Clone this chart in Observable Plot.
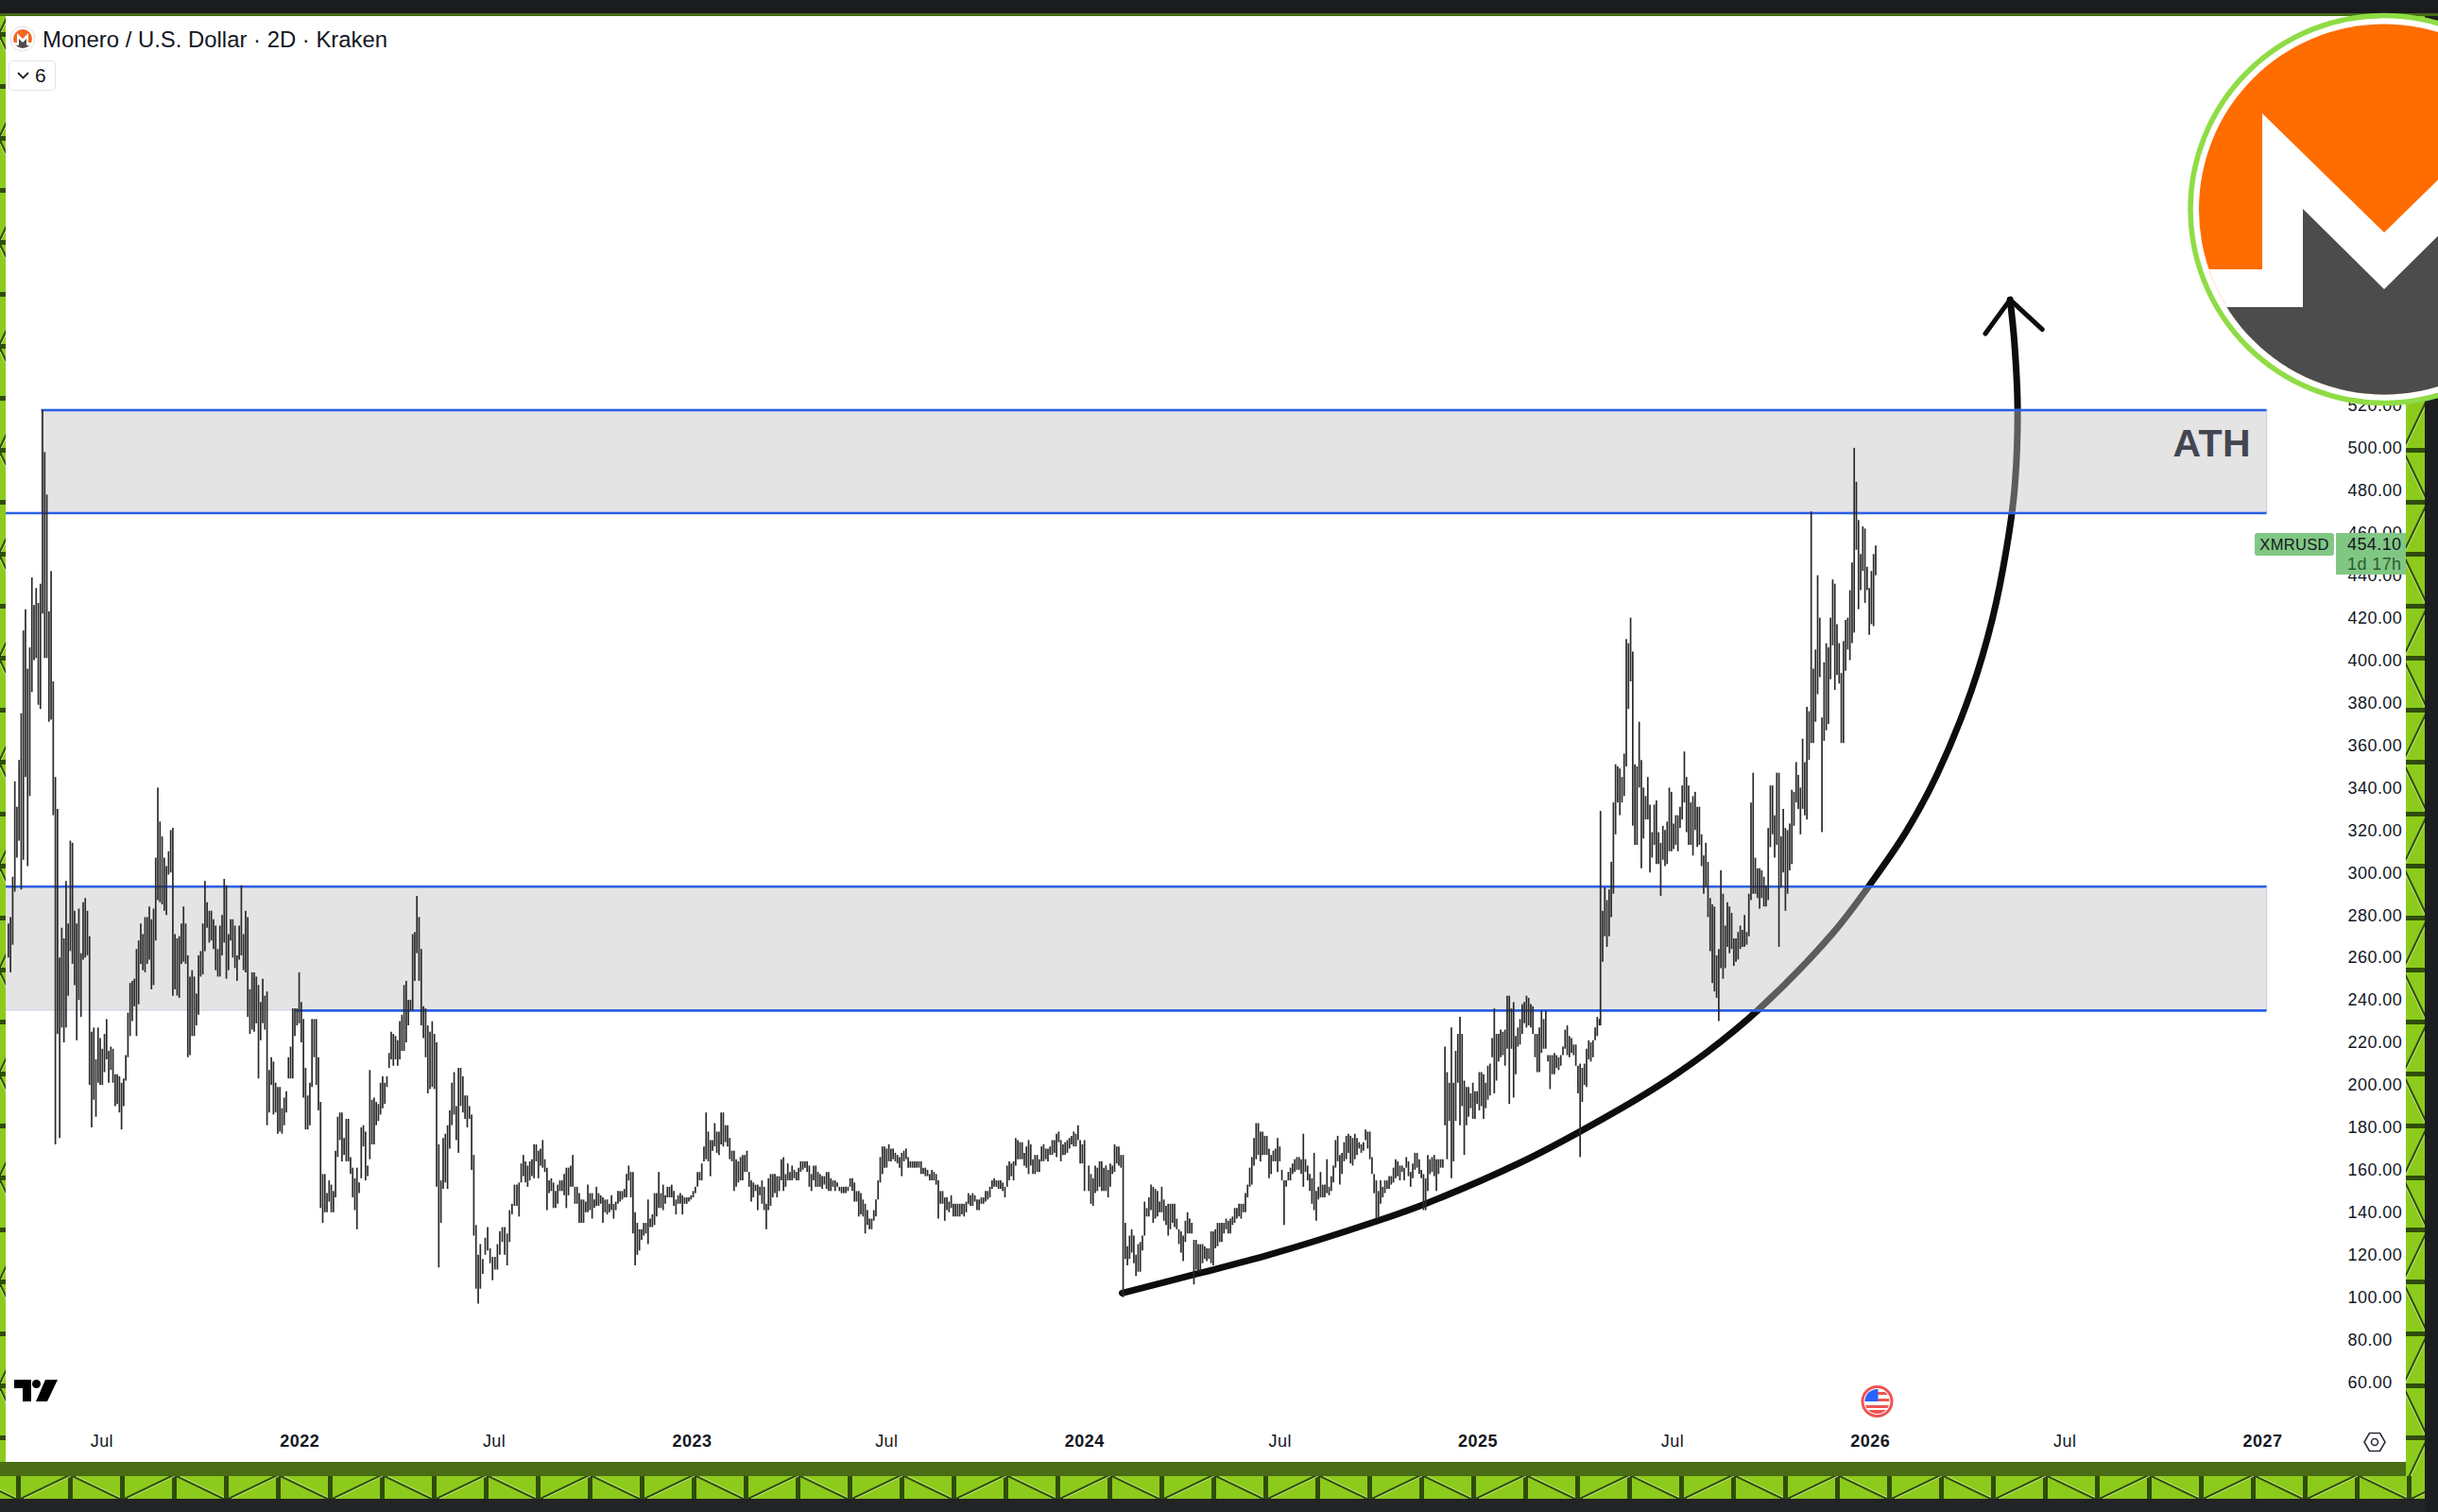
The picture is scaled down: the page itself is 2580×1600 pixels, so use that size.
<!DOCTYPE html>
<html><head><meta charset="utf-8">
<script src="https://cdn.jsdelivr.net/npm/d3@7"></script>
<script src="https://cdn.jsdelivr.net/npm/@observablehq/plot@0.6"></script>
<style>
html,body{margin:0;padding:0;background:#1c1d1e;}
#page{position:relative;width:2580px;height:1600px;overflow:hidden;background:#1c1d1e;font-family:"Liberation Sans",Arial,sans-serif;}
#panel{position:absolute;left:6px;top:17px;width:2540px;height:1530px;background:#fff;}
#chart{position:absolute;left:0;top:0;}
#frame{position:absolute;left:0;top:0;pointer-events:none;}
.h{position:absolute;white-space:nowrap;}
</style></head><body>
<div id="page">
<div id="panel"></div>
<div id="chart"></div>
<svg id="frame" width="2580" height="1600" viewBox="0 0 2580 1600">
<defs>
<pattern id="trussH" width="110" height="24" patternUnits="userSpaceOnUse" x="17" y="1562">
<rect width="110" height="24" fill="#8ccb1c"/><rect x="0" width="5" height="24" fill="#2f4d0b"/><rect x="55" width="5" height="24" fill="#2f4d0b"/>
<path d="M5 24L55 0M60 0L110 24" stroke="#2f4d0b" stroke-width="2.4"/><path d="M8 24L58 0M63 0L113 24" stroke="#c6e57e" stroke-width="1"/>
</pattern>
<pattern id="trussV" width="24" height="110" patternUnits="userSpaceOnUse" x="0" y="34">
<rect width="24" height="110" fill="#8ccb1c"/><rect y="0" width="24" height="5" fill="#2f4d0b"/><rect y="55" width="24" height="5" fill="#2f4d0b"/>
<path d="M0 5L24 55M24 60L0 110" stroke="#2f4d0b" stroke-width="2.4"/><path d="M0 8L24 58M24 63L0 113" stroke="#c6e57e" stroke-width="1"/>
</pattern>
<clipPath id="disk"><circle cx="2523" cy="221.5" r="196"/></clipPath>
<clipPath id="mini"><circle cx="24" cy="41" r="10"/></clipPath>
<clipPath id="flag"><circle cx="1986.5" cy="1483" r="13"/></clipPath>
</defs>
<rect x="0" y="0" width="2580" height="14" fill="#1b1c1d"/><rect x="0" y="14" width="2580" height="3" fill="#466b14"/>
<rect x="0" y="17" width="6" height="1546" fill="url(#trussV)"/>
<rect x="2546" y="17" width="20" height="1569" fill="url(#trussV)"/>
<rect x="0" y="1547" width="2546" height="15" fill="#4a6c14"/>
<rect x="0" y="1562" width="2566" height="24" fill="url(#trussH)"/>
<rect x="0" y="1586" width="2580" height="14" fill="#232425"/>
<rect x="2566" y="17" width="14" height="1583" fill="#1c1d1e"/>
<circle cx="2523" cy="221.5" r="205" fill="#fff" stroke="#8fdc45" stroke-width="5.5"/>
<g clip-path="url(#disk)"><rect x="2300" y="0" width="460" height="460" fill="#ff6c00"/>
<polygon points="2300,285 2394,285 2394,120 2523,246 2652,120 2652,285 2760,285 2760,460 2300,460" fill="#fff"/>
<polygon points="2300,325 2437,325 2437,221 2523,306 2609,221 2609,325 2760,325 2760,460 2300,460" fill="#4c4c4c"/></g>
<circle cx="24" cy="41" r="13" fill="#fff" stroke="#e0e0e0"/>
<g clip-path="url(#mini)"><rect x="10" y="28" width="28" height="26" fill="#f26822"/><polygon points="10,45 18,45 18,35 24,41 30,35 30,45 38,45 38,54 10,54" fill="#fff"/><polygon points="10,48 20,48 20,41 24,45 28,41 28,48 38,48 38,54 10,54" fill="#4c4c4c"/></g>
<rect x="9.5" y="64.5" width="49" height="31" rx="4" fill="#fff" stroke="#e0e3eb"/>
<path d="M19 77L24.5 82.5L30 77" fill="none" stroke="#222" stroke-width="1.8"/>
<path d="M15 1460H33V1483H24V1469H15Z" fill="#000"/><circle cx="38.5" cy="1464.5" r="4.5" fill="#000"/><polygon points="48,1460 61,1460 50,1483 38,1483" fill="#000"/>
<circle cx="1986.5" cy="1483" r="15.5" fill="#fff" stroke="#ef5350" stroke-width="3"/>
<g clip-path="url(#flag)"><rect x="1970" y="1468" width="34" height="30" fill="#fff"/><rect x="1970" y="1473" width="34" height="3" fill="#ef5350"/><rect x="1970" y="1480" width="34" height="3" fill="#ef5350"/><rect x="1970" y="1487" width="34" height="3" fill="#ef5350"/><rect x="1970" y="1492" width="34" height="4" fill="#ef5350"/><rect x="1970" y="1468" width="17.5" height="15" fill="#2962ff"/></g>
<polygon points="2502,1526 2507.5,1516.5 2518.5,1516.5 2524,1526 2518.5,1535.5 2507.5,1535.5" fill="none" stroke="#2a2e39" stroke-width="1.6"/><circle cx="2513" cy="1526" r="3.5" fill="none" stroke="#2a2e39" stroke-width="1.6"/>
</svg>
<div class="h" style="left:45px;top:28px;font-size:23.9px;line-height:28px;color:#131722;">Monero / U.S. Dollar · 2D · Kraken</div>
<div class="h" style="left:37px;top:68px;font-size:21px;line-height:24px;color:#131722;">6</div>
<div class="h" style="left:2386px;top:564px;width:84px;height:24px;background:#81c784;border-radius:3px;color:#131722;font-size:16.5px;line-height:24px;text-align:center;letter-spacing:.3px;">XMRUSD</div>
<div class="h" style="left:2472px;top:564px;width:74px;height:44px;background:#81c784;color:#131722;font-size:18px;line-height:21px;padding-left:12px;box-sizing:border-box;padding-top:2px;letter-spacing:.4px;">454.10<br><span style="color:#2d5c31;">1d 17h</span></div>
</div>
<script>
// Monero / USD, 2-day candles: high,low pairs, one list per stretch of the chart.
const section1=[276,260,279,253,298,266,343,291,331,307,353,315,375,292,414,306,424,345,396,303,406,336,439,385,426,400,434,401,427,379,436,377,518,422,498,401,478,401,423,371,442,372,390,327,345,172,330,224,260,175,274,227,269,220,296,227,276,242,315,263,314,257,282,247,276,221,283,240,262,232,286,259,288,260,282,261,270,200,225,180,227,193,212,185,227,201,222,200,217,200,224,206,231,212,216,201,218,207,217,201,205,190,205,191,204,187,201,179,203,190,214,202,234,213,248,223,249,230,250,237,264,223,268,238,276,257,271,254,279,253,279,257,284,259,278,245,283,247,307,268,340,287];
const section1b=[324,286,317,285,307,282,303,280,310,299,320,300,321,242,271,245,269,242,270,241,276,257,284,258,276,257,261,213,251,214,254,223,251,223,243,228,261,233,263,251,276,252,296,263,286,274,282,267,282,268,278,264,275,254,264,251,275,251,280,261,297,267,294,250,271,254,278,268,278,260,275,255,261,249,275,259,294,261,271,254,282,253,279,232,245,224,253,226,253,225,251,229,247,203,239,221,250,229,242,226,244,181,207,187,213,200,211,186,201,187,199,177,199,178,189,177,194,181,197,187,213,203,218,203,236,203,236,223,236,228,253,229,239,220,231,194,208,179,195,179,201,181,231,199,231,213,231,200,213,188,192,142,158,135,158,140,149,140,155,145,153,140,150,140,169,147,185,166,187,174,187,164,175,167,184,164,184,164,166,158,161,147,156,141,161,132,154,149,180,156,181,171,178,155,162,157,207,165,193,172,194,172,192,181,191,183,201,186,204,189,201,191,204,199,215,208,225,212,224,209,223,212,221,209,230,212,233,216,247,216,249,220,240,228,240,235,271,235,272,249,289,262];
const section1c=[279,249,264,228,237,222,236,213,228,196,225,198,230,199,224,198,220,152,172,114,155,135,175,151,177,154,181,151,188,170,201,181,206,186,190,174,208,168,208,190,204,187,195,184,195,180,190,184,186,160,167,129,134,104,120,97];
const section1d=[125,104,118,111,128,120,133,122,123,116,119,108,119,113,125,113,131,120,133,126,133,120,130,115,141,126,144,139,153,143,153,143];
const section2=[154,138,163,154,167,157,164,154,162,152,164,155,165,157,172,156,172,164,169,156,170,162,174,161,165,159,161,141,155,149,156,150,154,142,150,142,153,144,155,150,155,150,158,148,161,142,161,148,162,152,167,152,152,144,152,144,149,135,146,135,146,135,145,140,153,140,149,141,149,137,146,142,152,143,149,143,148,144,147,135,146,140,146,139,144,140,148,141,144,137,145,141,150,144,150,145,150,146,151,147,158,147,162,155,159,147,159,130,140,115,135,120,132,122,132,127,135,129,135,130,146,125,137,133,139,133,149,134,149,138,159,142,149,142,153,141,148,144,152,147,152,147,153,147,150,143,146,139,148,144,149,144,148,139,147,144,147,144,147,145,148,146,150,147,152,149,159,152,159,155,163,155,171,164,187,165,178,164,174,157,174,169,182,171,178,168,178,167,187,172,187,171,181,173,181,171,175,165,169,164,169,150,165,152,164,154,166,155,167,155,167,159,169,159,159,152,155,145,154,147,153,150,153,141,152,148,155,144,152,141,144,132,156,141,158,143,158,147,158,149,157,147,157,150,165,155,166,150,158,152,163,155,159,155,162,155,160,156,159,155,161,155,164,159,164,160,164,161,164,159,162,152,158,150,162,155,162,152,159,152,158,152,157,151,157,153,159,151,159,150,156,150,155,152,155,150,154,152,152,150,152,149,152,149,152,149,152,150,156,152,156,150,154,145,150,145,150,138,149,139,146,138,144,130,141,134,137,132,137,132,141,136,146,138,155,146,166,154,171,158,171,161,170,161,172,164,170,164,170,165,168,164,167,163,166,161,168,157,169,164,170,165,166,161,164,161,164,161,164,161,164,161,164,161,164,158,161,158,161,157,160,157,158,155,160,155,159,155,158,153,155,137,150,144,150,144,147,136,147,141,145,140,148,142,144,138,144,138,144,138,144,138,144,139,144,138,145,140,149,144,148,143,149,143,148,145,146,141,146,141,147,144,147,144,150,145,150,146,152,147,155,151,156,152,155,152,155,151,155,151,154,150,152,147,162,152,164,155,163,157,164,155,175,162,174,165,173,165,173,165,168,162,171,161,174,158,172,162,165,158,167,158,167,159,165,159,171,164,172,164,170,165,170,164,171,167,174,167,174,168,177,166,178,173,174,164,172,167,173,167,174,168,175,170,176,172,178,171,177,171,181,174,174,163,172,163,174,150];
const section3=[162,150,158,144,156,143,162,149,161,150,164,152,164,150,161,150,162,150,160,147,163,152,162,158,172,159,171,163,171,162,167,161,167,100,135,118,124,115,129,118,132,121,129,116,120,110,125,112,126,112,129,122,145,129,142,138,147,138,153,141,152,135,151,137,150,138,145,140,152,140,146,136,143,134,144,129,144,132,144,135,144,133,137,132,132,125,131,121,129,117,136,126,140,130,137,130,135,130,127,106,127,113,125,112,125,112,125,116,124,118,123,117,123,118,131,116,131,115,132,123,135,124,135,126,135,126,135,130,137,132,136,130,137,130,138,134,142,135,142,137,144,138,144,137,144,140,149,140,153,147,161,152,166,153,175,162,182,165,182,167,178,164,178,167,176,167,176,167,170,156,167,158,169,164,170,164,175,159,171,164,160,155,155,134,155,152,159,155,161,155,163,158,165,159,166,160,166,160,165,158,177,152,165,159,162,155,158,150,156,144,168,141,150,136,152,146,159,147,153,147,153,147,165,149,152,148,157,150,162,154,174,161,176,164,167,153,168,158,173,164,176,165,177,168,176,163,175,162,177,165,175,167,173,170,172,168,173,169,179,174,178,170,178,165,166,158,158,149,155,137,150,137,155,144,152,147,155,149,155,151,157,151,157,153,161,154,165,156,164,157,162,155,162,159,161,155,166,161,164,157,159,152,163,156,168,160,168,161,165,158,160,156,158,141,156,141,167,150,165,158,166,159,167,157,165,150,165,158,165,161,165,161,218,181,206,165,201,183,227,156,201,164,216,183,224,201,232,181,224,190,202,167,199,181,199,185,196,189,201,184,197,184,197,191,206,188,206,190,205,184,201,189,209,193,210,195,222,213,236,196,224,202,224,211,226,213,225,214,226,209,242,217,242,191,236,217,239,194,223,205,227,218,231,219,238,224,239,229,242,227,241,228,238,227,237,224,224,213,224,206,227,206,235,215,231,217,235,217,214,211,214,198,214,205,215,205,214,208,213,207,214,209,218,214,226,217,228,214,223,213,222,215,219,214,219,209,209,196,210,166,208,192,210,200,217,199,221,212,220,211,221,213,227,221,232,223,231,228];
const section4=[329,228,282,258,293,270,287,265,292,270,305,279,333,290,351,318,350,333,349,327,345,333,356,336,410,350,408,377,420,390,404,322,351,313,350,313,371,340,353,302,340,316,336,325,345,325,332,300,319,307,332,313,334,304,319,304,314,289,322,306,320,303,324,304,340,310,338,310,323,311,327,313,327,310,331,321,341,325,357,333,345,319,341,313,333,313,336,308,338,320,331,312,331,313,318,303,308,290,314,293,305,279,288,263,285,248,284,244,261,241,264,230,301,255,290,250,275,255,286,265,284,262,281,264,269,256,269,258,272,259,275,264,273,265,280,265,272,266,290,270,333,287,347,290,307,290,302,288,302,283,301,288,298,284,294,284,321,287,341,312,341,318,327,307,347,313,347,265,317,293,330,300,321,282,320,290,323,301,339,304,338,322,352,333,346,330,340,318,363,330,352,327];
const section5=[378,325,376,353,470,361,396,361,405,371,440,384,420,392,373,319,399,362,408,367,406,370,420,391,438,407,436,386,417,393,408,389,394,361,409,361,419,395,420,405,433,400,446,408,500,413,484,452,466,424,450,433,463,442,462,427,444,433,434,412,442,417,450,416,454,440];
const sectionStart=["2021-04-05","2021-08-24","2022-04-22","2022-06-18","2022-07-24","2024-01-05","2025-04-25","2025-11-03"];
const sectionEnd=["2021-08-22","2022-04-20","2022-06-16","2022-07-22","2024-01-01","2025-04-24","2025-11-01","2026-01-06"];
const sections=[section1,section1b,section1c,section1d,section2,section3,section4,section5];

// Hand-drawn annotations: zones and curved arrow
const athHigh=518, athLow=469.5, supportHigh=293.6, supportLow=235.2;
const curveDates=["2024-02-05","2024-04-13","2024-06-19","2024-09-28","2024-11-14","2025-02-09","2025-04-04","2025-06-13","2025-08-02","2025-09-18","2025-11-27","2026-01-04","2026-02-03","2026-03-04","2026-04-05","2026-04-25","2026-05-08","2026-05-15","2026-05-18","2026-05-15","2026-05-11"];
const curvePrices=[102.1,111,119.9,135.9,144.4,163.5,177.7,198.2,215.6,235.2,271.6,296.9,319.2,346.3,386,420.6,453.7,480,518,550,570];
const headDates=["2026-04-18","2026-05-11","2026-06-10"];
const headPrices=[554,570,556];

const yTicks=[60,80,100,120,140,160,180,200,220,240,260,280,300,320,340,360,380,400,420,440,460,480,500,520];
const yearTicks=["2022","2023","2024","2025","2026","2027"];
const julyTicks=["2021-07-01","2022-07-01","2023-07-01","2024-07-01","2025-07-01","2026-07-01"];

const D=s=>new Date(s);
const candles=sections.flatMap((vals,k)=>{
  const t0=+D(sectionStart[k]),t1=+D(sectionEnd[k]),n=vals.length/2;
  return d3.range(n).map(i=>({date:new Date(t0+(t1-t0)*i/(n-1)),high:vals[2*i],low:vals[2*i+1]}));
});
const curve=curveDates.map((d,i)=>({date:D(d),price:curvePrices[i]}));
const head=headDates.map((d,i)=>({date:D(d),price:headPrices[i]}));
const zones=[
 {x1:D("2021-05-06"),x2:D("2027-01-05"),y1:athLow,y2:athHigh},
 {x1:D("2021-03-20"),x2:D("2027-01-05"),y1:supportLow,y2:supportHigh}
];
const blue=[
 {x1:D("2021-05-06"),x2:D("2027-01-05"),y:athHigh},
 {x1:D("2021-03-20"),x2:D("2027-01-05"),y:athLow},
 {x1:D("2021-03-20"),x2:D("2027-01-05"),y:supportHigh},
 {x1:D("2021-12-28"),x2:D("2027-01-05"),y:supportLow}
];
const chart=Plot.plot({
  width:2580,height:1600,marginLeft:0,marginTop:0,marginRight:96,marginBottom:82,
  style:{background:"transparent",fontFamily:"'Liberation Sans',Arial,sans-serif",fontSize:"18px",letterSpacing:"0.45px",color:"#131722"},
  x:{type:"utc",domain:[D("2022-01-01"),D("2027-01-01")],range:[316.7,2394]},
  y:{type:"linear",domain:[100,500],range:[1372.7,473.9]},
  marks:[
    Plot.line(curve,{x:"date",y:"price",curve:"catmull-rom",stroke:"#0d0d0d",strokeWidth:7,strokeLinecap:"round"}),
    Plot.line(head,{x:"date",y:"price",stroke:"#0d0d0d",strokeWidth:5,strokeLinecap:"round",strokeLinejoin:"round"}),
    Plot.rect(zones,{x1:"x1",x2:"x2",y1:"y1",y2:"y2",fill:"rgb(193,193,193)",fillOpacity:.44,stroke:"#cfcfe6",strokeWidth:1.2}),
    Plot.ruleY(blue,{x1:"x1",x2:"x2",y:"y",stroke:"#2a5fe6",strokeWidth:2.6}),
    Plot.ruleX(candles,{x:"date",y1:"low",y2:"high",stroke:"#2a2a2a",strokeWidth:1.7}),
    Plot.text([{date:D("2026-12-21"),price:502}],{x:"date",y:"price",text:()=>"ATH",textAnchor:"end",fontSize:41,fontWeight:"bold",fill:"#434651"}),
    Plot.axisY(yTicks,{anchor:"right",tickSize:0,tickPadding:0,label:null,tickFormat:d3.format(".2f"),fill:"#131722"}),
    Plot.axisX(julyTicks.map(D),{anchor:"bottom",tickSize:0,tickPadding:0,label:null,tickFormat:()=>"Jul",fill:"#131722"}),
    Plot.axisX(yearTicks.map(y=>D(y+"-01-01")),{anchor:"bottom",tickSize:0,tickPadding:0,label:null,tickFormat:d=>String(d.getUTCFullYear()),fontWeight:"bold",fill:"#131722"})
  ]
});
document.getElementById("chart").appendChild(chart);
</script>
</body></html>
